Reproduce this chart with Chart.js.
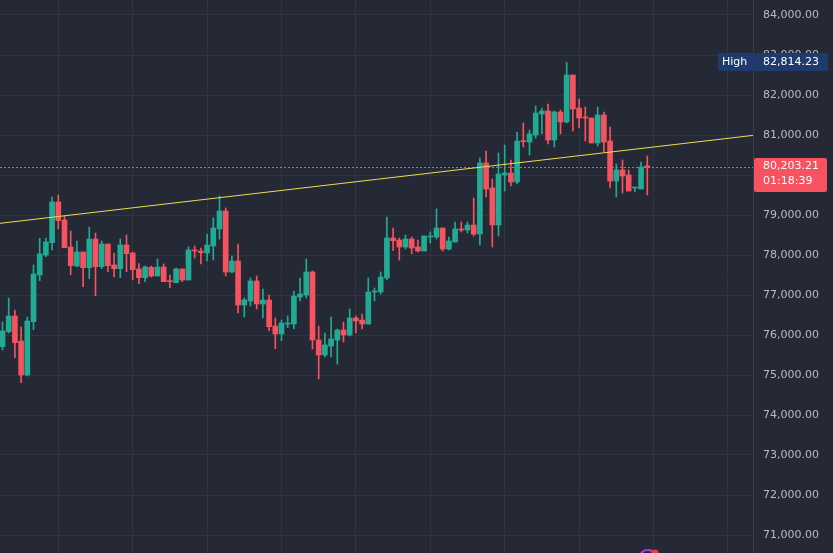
<!DOCTYPE html>
<html>
<head>
<meta charset="utf-8">
<script src="https://cdn.jsdelivr.net/npm/chart.js@4.4.1/dist/chart.umd.min.js"></script>
<style>
  html, body { margin: 0; padding: 0; background: #252935; overflow: hidden; }
</style>
</head>
<body>
<canvas id="chart" width="833" height="553"></canvas>
<script>
// свечи (OHLC), слева направо
const opens = [75708, 76083, 76475, 75850, 75000, 76333, 77500, 78000, 78308, 79325,
  78875, 78200, 77725, 78075, 77683, 78400, 77708, 78275, 77750, 77658,
  78250, 78050, 77650, 77433, 77692, 77475, 77700, 77358, 77308, 77650,
  77375, 78125, 78100, 78050, 78225, 78650, 79100, 77575, 77850, 76750,
  76850, 77350, 76775, 76875, 76225, 76025, 76275, 76275, 76950, 77000,
  77575, 75875, 75500, 75725, 75875, 76125, 76000, 76425, 76375, 76275,
  77075, 77075, 77425, 78425, 78375, 78200, 78400, 78200, 78100, 78450,
  78450, 78675, 78150, 78325, 78650, 78625, 78750, 78525, 80300, 79675,
  78750, 80000, 80050, 79825, 80858, 80825, 81000, 81525, 81600, 80875,
  81575, 81325, 82500, 81675, 81450, 81425, 80800, 81500, 80850, 79850,
  80125, 80000, 79675, 79650, 80225];
const highs = [76325, 76925, 76625, 76200, 76450, 77750, 78417, 78425, 79450, 79500,
  78975, 78600, 78350, 78075, 78700, 78550, 78350, 78275, 78050, 78400,
  78500, 78075, 77783, 77725, 77725, 77900, 77775, 77500, 77675, 77650,
  78200, 78225, 78175, 78525, 78925, 79475, 79175, 77975, 78275, 76925,
  77425, 77475, 77150, 77000, 76425, 76375, 76475, 77100, 77425, 77900,
  77600, 76225, 76050, 76450, 76150, 76325, 76650, 76475, 76525, 77425,
  77175, 77575, 78950, 78675, 78425, 78500, 78450, 78375, 78475, 78575,
  79150, 78675, 78450, 78825, 78825, 78825, 79425, 80425, 80600, 79900,
  80550, 80750, 80375, 81075, 81300, 81125, 81725, 81675, 81775, 81600,
  81625, 82814.23, 82500, 81900, 81700, 81425, 81700, 81575, 81200, 80275,
  80375, 80125, 79700, 80325, 80475];
const lows = [75625, 76050, 75433, 74808, 74975, 76133, 77358, 77958, 78125, 78650,
  78183, 77508, 77700, 77208, 77408, 76983, 77658, 77583, 77450, 77433,
  77583, 77383, 77283, 77333, 77450, 77475, 77333, 77183, 77308, 77333,
  77375, 77925, 77775, 77850, 77875, 78400, 77475, 77550, 76550, 76450,
  76725, 76650, 76425, 76108, 75658, 75858, 76183, 76158, 76850, 76925,
  75650, 74900, 75450, 75450, 75275, 75825, 75975, 76050, 76150, 76275,
  76850, 77025, 77375, 78108, 77875, 78150, 78033, 78075, 78100, 78300,
  78400, 78100, 78125, 78325, 78575, 78550, 78475, 78250, 79450, 78200,
  78475, 79600, 79725, 79775, 80700, 80500, 80925, 81025, 80775, 80700,
  81025, 81300, 81100, 81175, 80850, 80800, 80725, 80575, 79675, 79450,
  79550, 79600, 79575, 79650, 79500];
const closes = [76100, 76475, 75808, 75000, 76350, 77525, 78025, 78325, 79325, 78858,
  78183, 77733, 78075, 77683, 78400, 77708, 78275, 77733, 77658, 78250,
  78033, 77633, 77433, 77700, 77475, 77700, 77333, 77333, 77650, 77375,
  78125, 78100, 78058, 78250, 78675, 79100, 77575, 77850, 76750, 76875,
  77350, 76775, 76875, 76208, 76025, 76300, 76300, 76975, 77025, 77575,
  75875, 75500, 75750, 75900, 76125, 76000, 76425, 76350, 76275, 77075,
  77100, 77450, 78425, 78358, 78200, 78400, 78175, 78100, 78475, 78475,
  78675, 78150, 78350, 78650, 78625, 78750, 78525, 80300, 79650, 78750,
  80025, 80050, 79825, 80850, 80833, 81025, 81550, 81600, 80875, 81575,
  81325, 82500, 81650, 81425, 81425, 80800, 81500, 80825, 79850, 80125,
  79975, 79600, 79700, 80200, 80203.21];

// линия тренда: две точки (индекс свечи, цена)
const trendIdx = [-0.403, 121.05];
const trendPrice = [78792, 80990];

const yTickValues = [71000, 72000, 73000, 74000, 75000, 76000, 77000, 78000, 79000, 80000, 81000, 82000, 83000, 84000];
const highValue = 82814.23;
const lastPrice = 80203.21;
const timerText = '01:18:39';

const upColor = '#22ab94';
const downColor = '#f7525f';
const bgColor = '#252935';
const gridColor = '#31353f';
const font = '11px "DejaVu Sans"';

let colors = closes.map(function (c, i) {
  return c >= opens[i] ? upColor : downColor;
});
let wicks = lows.map(function (l, i) {
  return { x: i, y: [l, highs[i]] };
});
let bodies = opens.map(function (o, i) {
  return { x: i, y: [o, closes[i]] };
});

let fmt = function (v) {
  return v.toLocaleString('en-US', { minimumFractionDigits: 2, maximumFractionDigits: 2 });
};

let roundRect = function (ctx, x, y, w, h, r) {
  ctx.beginPath();
  ctx.moveTo(x + r, y);
  ctx.arcTo(x + w, y, x + w, y + h, r);
  ctx.arcTo(x + w, y + h, x, y + h, r);
  ctx.arcTo(x, y + h, x, y, r);
  ctx.arcTo(x, y, x + w, y, r);
  ctx.closePath();
  ctx.fill();
};

const decor = {
  id: 'decor',
  beforeDraw(chart) {
    let ctx = chart.ctx;
    ctx.save();
    ctx.fillStyle = bgColor;
    ctx.fillRect(0, 0, chart.width, chart.height);
    ctx.restore();
  },
  beforeDatasetsDraw(chart) {
    // пунктир текущей цены
    let ctx = chart.ctx;
    let area = chart.chartArea;
    let py = Math.round(chart.scales.y.getPixelForValue(lastPrice)) + 0.5;
    ctx.save();
    ctx.strokeStyle = downColor;
    ctx.lineWidth = 1;
    ctx.setLineDash([2, 2]);
    ctx.beginPath();
    ctx.moveTo(area.left, py);
    ctx.lineTo(area.right, py);
    ctx.stroke();
    ctx.restore();
  },
  afterDraw(chart) {
    let ctx = chart.ctx;
    let area = chart.chartArea;
    let y = chart.scales.y;
    ctx.save();
    ctx.font = font;
    ctx.textBaseline = 'middle';
    ctx.textAlign = 'left';

    // метка High
    let hy = Math.round(y.getPixelForValue(highValue));
    ctx.fillStyle = '#1f3a6d';
    roundRect(ctx, area.right - 35, hy - 9, 110, 18, 1);
    ctx.fillStyle = '#ffffff';
    ctx.fillText('High', area.right - 31, hy);
    ctx.fillText(fmt(highValue), area.right + 10, hy);

    // метка цены и таймер
    let py = Math.round(y.getPixelForValue(lastPrice));
    ctx.fillStyle = downColor;
    roundRect(ctx, area.right + 1, py - 9, 73, 34, 2);
    ctx.fillStyle = '#ffffff';
    ctx.fillText(fmt(lastPrice), area.right + 10, py - 0.5);
    ctx.fillText(timerText, area.right + 10, py + 14);

    // значок внизу
    ctx.strokeStyle = '#b43ad0';
    ctx.lineWidth = 2;
    ctx.beginPath();
    ctx.arc(648, 559, 9, Math.PI * 1.1, Math.PI * 1.75);
    ctx.stroke();
    ctx.fillStyle = '#f23645';
    ctx.beginPath();
    ctx.arc(655, 553, 3.5, 0, Math.PI * 2);
    ctx.fill();
    ctx.restore();
  }
};

let chart = new Chart(document.getElementById('chart').getContext('2d'), {
  type: 'bar',
  data: {
    datasets: [
      {
        type: 'line',
        data: trendIdx.map(function (x, i) { return { x: x, y: trendPrice[i] }; }),
        borderColor: '#eedc48',
        borderWidth: 1,
        pointRadius: 0,
        fill: false,
        order: 0
      },
      {
        data: bodies,
        backgroundColor: colors,
        barThickness: 5,
        minBarLength: 1,
        grouped: false,
        order: 1
      },
      {
        data: wicks,
        backgroundColor: colors,
        barThickness: 1,
        grouped: false,
        order: 2
      }
    ]
  },
  options: {
    responsive: false,
    animation: false,
    events: [],
    layout: { padding: 0 },
    plugins: {
      legend: { display: false },
      tooltip: { enabled: false }
    },
    scales: {
      x: {
        type: 'linear',
        min: trendIdx[0],
        max: trendIdx[1],
        offset: false,
        grid: { color: gridColor, drawTicks: false, offset: false },
        border: { display: false },
        ticks: { display: false },
        afterBuildTicks: function (s) {
          let t = [];
          for (let v = 9; v <= 117; v += 12) t.push({ value: v });
          s.ticks = t;
        },
        afterFit: function (s) {
          s.height = 0;
          s.paddingLeft = 0;
          s.paddingRight = 0;
        }
      },
      y: {
        position: 'right',
        min: 70550,
        max: 84375,
        grid: { color: gridColor, drawTicks: false },
        border: { color: '#3a3e4a' },
        ticks: {
          color: '#b8bbc4',
          font: { family: 'DejaVu Sans', size: 11 },
          padding: 10,
          crossAlign: 'near',
          callback: function (v) { return fmt(v); }
        },
        afterBuildTicks: function (s) {
          s.ticks = yTickValues.map(function (v) { return { value: v }; });
        },
        afterFit: function (s) {
          s.width = 80;
          s.paddingTop = 0;
          s.paddingBottom = 0;
        }
      }
    }
  },
  plugins: [decor]
});
</script>
</body>
</html>
